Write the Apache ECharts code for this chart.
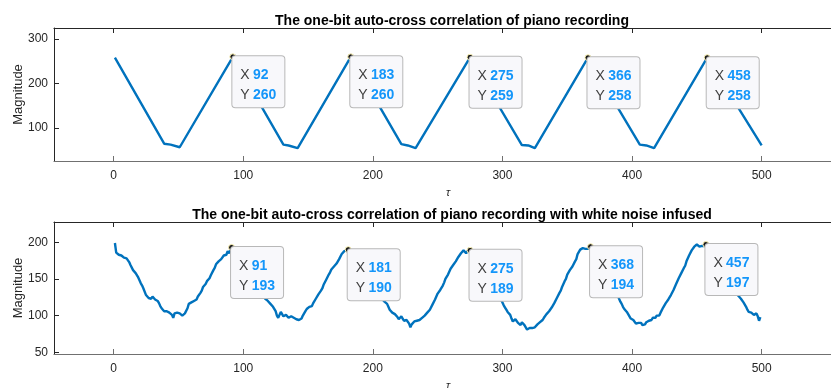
<!DOCTYPE html>
<html>
<head>
<meta charset="utf-8">
<script src="https://cdn.jsdelivr.net/npm/echarts@6/dist/echarts.min.js"></script>
<style>
  html, body { margin: 0; padding: 0; background: #ffffff; }
  #chart { width: 831px; height: 388px; }
</style>
</head>
<body>
<div id="chart"></div>
<script>
// Clean recording: vertices of the piecewise-linear correlation curve
const tauClean = [1, 39, 44, 51, 92, 131, 135, 142, 183, 222, 227, 233, 275, 315, 320, 325, 366, 406, 411, 417, 458, 500];
const magClean = [258, 64, 62, 56, 260, 62, 60, 54, 260, 63, 60, 54, 259, 61, 60, 54, 258, 62, 60, 54, 258, 60];

// Noisy recording: magnitude for lags tau = 1 .. 499
const magNoisy = [
  199,186,184,183,181,182,180,179,177,178,
  176,173,169,170,162,164,158,157,152,151,
  144,141,137,135,128,129,124,126,123,126,
  124,122,123,120,117,113,110,109,106,107,
  106,104,104,103,101,97,103,105,104,102,
  103,101,100,101,103,104,110,116,114,118,
  117,120,119,122,126,125,131,134,139,138,
  143,147,146,151,155,154,162,165,170,168,
  174,172,177,176,182,184,183,188,185,189,
  193,191,190,188,186,183,181,178,176,173,
  170,167,165,161,158,155,152,149,146,143,
  140,137,134,131,128,126,123,121,120,118,
  116,114,112,110,106,100,97,101,105,103,
  99,98,101,100,97,96,99,98,97,99,
  95,96,94,93,96,100,103,106,109,110,
  112,114,113,117,119,123,124,129,130,134,
  137,142,144,149,150,156,159,163,164,167,
  168,171,170,177,179,184,183,188,186,189,
  190,189,187,186,184,181,179,176,173,170,
  167,164,161,158,155,152,149,146,143,140,
  137,134,131,129,127,125,123,121,119,118,
  116,112,108,106,104,105,102,100,98,95,
  97,99,96,93,91,94,93,89,84,88,
  90,92,91,93,95,94,96,97,98,100,
  101,104,102,108,110,115,116,122,126,130,
  131,135,134,141,145,150,151,156,158,164,
  164,169,168,174,175,180,179,185,186,189,
  187,185,188,190,189,188,187,185,182,179,
  176,173,170,167,164,161,158,155,152,149,
  146,143,140,137,134,131,128,124,121,118,
  114,111,108,105,103,101,96,92,94,95,
  93,90,88,87,91,89,87,84,81,80,
  83,85,83,82,84,86,88,89,91,92,
  94,97,96,102,101,106,105,111,112,117,
  118,124,125,131,134,139,141,147,150,156,
  157,162,163,167,168,174,177,184,185,190,
  190,192,192,191,190,191,193,194,193,192,
  190,187,184,181,178,175,172,169,166,163,
  159,156,152,148,144,140,136,132,128,123,
  119,116,112,109,107,105,102,99,96,95,
  94,92,89,87,90,92,90,87,85,88,
  91,90,93,95,94,97,98,97,100,101,
  100,104,103,111,112,117,118,122,123,128,
  130,135,137,143,145,151,152,158,159,165,
  168,174,176,182,183,189,190,194,195,197,
  196,194,193,195,196,195,197,196,195,193,
  190,187,184,181,178,175,172,169,166,163,
  160,157,154,151,148,145,142,139,136,133,
  130,127,125,123,121,118,115,112,108,105,
  103,104,102,101,100,103,99,93,98
];

// Data tips (peaks)
const tipCleanX = [92, 183, 275, 366, 458];
const tipCleanY = [260, 260, 259, 258, 258];
const tipNoisyX = [91, 181, 275, 368, 457];
const tipNoisyY = [193, 190, 189, 194, 197];

// Tick labels
const xTicks = [0, 100, 200, 300, 400, 500];
const yTicksClean = [100, 200, 300];
const yTicksNoisy = [50, 100, 150, 200];

const titles = [
  'The one-bit auto-cross correlation of piano recording',
  'The one-bit auto-cross correlation of piano recording with white noise infused'
];

const FONT = '"Liberation Sans", Arial, Helvetica, sans-serif';
const AX = '#262626';
const AX_BOTTOM = '#707070';
const LINE = '#0072BD';

const cleanData = tauClean.map((t, i) => [t, magClean[i]]);
const noisyData = magNoisy.map((m, i) => [i + 1, m]);

function xAxisFor(grid, pos, withLabels) {
  const c = pos === 'bottom' ? AX_BOTTOM : AX;
  return {
    type: 'value', gridIndex: grid, position: pos, min: -46, max: 562,
    name: withLabels ? 'τ' : '', nameLocation: 'middle', nameGap: 26, nameMoveOverlap: false,
    nameTextStyle: { fontFamily: FONT, fontSize: 11, fontStyle: 'italic', color: AX },
    axisLine: { show: true, onZero: false, lineStyle: { color: c, width: 1.2 } },
    axisTick: { show: true, inside: true, length: 5, customValues: xTicks, lineStyle: { color: c } },
    axisLabel: { show: withLabels, customValues: xTicks, margin: 9, fontFamily: FONT, fontSize: 12, color: AX },
    splitLine: { show: false }
  };
}
function yAxisFor(grid, min, max, ticks) {
  return {
    type: 'value', gridIndex: grid, min: min, max: max,
    name: 'Magnitude', nameLocation: 'middle', nameGap: 29, nameMoveOverlap: false,
    nameTextStyle: { fontFamily: FONT, fontSize: 13, color: AX },
    axisLine: { show: true, onZero: false, lineStyle: { color: AX, width: 1 } },
    axisTick: { show: true, inside: true, length: 5, customValues: ticks, lineStyle: { color: AX } },
    axisLabel: { customValues: ticks, margin: 6, fontFamily: FONT, fontSize: 12, color: AX },
    splitLine: { show: false }
  };
}
function tipSeries(xs, ys, xi, yi) {
  return {
    type: 'scatter', xAxisIndex: xi, yAxisIndex: yi, z: 5,
    data: xs.map((x, i) => [x, ys[i]]),
    symbol: 'circle', symbolSize: 6,
    itemStyle: { color: '#1a1a1a', borderColor: '#fff6b8', borderWidth: 1, opacity: 1 },
    label: {
      show: true, position: [3, 3], opacity: 1,
      formatter: p => '{k|X} {v|' + p.value[0] + '}\n{k|Y} {v|' + p.value[1] + '}',
      backgroundColor: '#f8f8fb', borderColor: '#b8b8b8', borderWidth: 1, borderRadius: 3,
      padding: [9, 6, 2, 8], width: 38,
      rich: {
        k: { fontFamily: FONT, fontSize: 14, color: '#404040', lineHeight: 20 },
        v: { fontFamily: FONT, fontSize: 14, fontWeight: 'bold', color: '#1496fa', lineHeight: 20 }
      }
    },
    emphasis: { disabled: true }, silent: true
  };
}

const chart = echarts.init(document.getElementById('chart'), null, { renderer: 'canvas' });
chart.setOption({
  animation: false,
  backgroundColor: '#ffffff',
  title: [
    { text: titles[0], left: 447, top: 9, textAlign: 'center',
      textStyle: { fontFamily: FONT, fontSize: 14, fontWeight: 'bold', color: '#000' } },
    { text: titles[1], left: 447, top: 203, textAlign: 'center',
      textStyle: { fontFamily: FONT, fontSize: 14, fontWeight: 'bold', color: '#000' } }
  ],
  grid: [
    { left: 54, right: -11, top: 28, height: 133, outerBoundsMode: 'none' },
    { left: 54, right: -11, top: 222, height: 132, outerBoundsMode: 'none' }
  ],
  xAxis: [
    xAxisFor(0, 'bottom', true), xAxisFor(0, 'top', false),
    xAxisFor(1, 'bottom', true), xAxisFor(1, 'top', false)
  ],
  yAxis: [
    yAxisFor(0, 25, 325, yTicksClean),
    yAxisFor(1, 47.6, 227.7, yTicksNoisy)
  ],
  series: [
    { type: 'line', xAxisIndex: 0, yAxisIndex: 0, data: cleanData, showSymbol: false, z: 2,
      lineStyle: { color: LINE, width: 2.4 }, emphasis: { disabled: true }, silent: true },
    { type: 'line', xAxisIndex: 2, yAxisIndex: 1, data: noisyData, showSymbol: false, z: 2,
      lineStyle: { color: LINE, width: 2.4 }, emphasis: { disabled: true }, silent: true },
    tipSeries(tipCleanX, tipCleanY, 0, 0),
    tipSeries(tipNoisyX, tipNoisyY, 2, 1)
  ]
});
</script>
</body>
</html>
